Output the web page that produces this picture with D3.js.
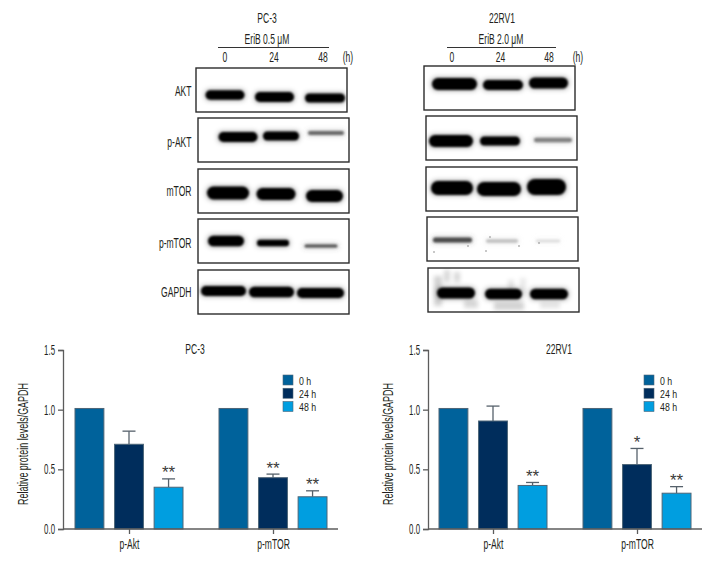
<!DOCTYPE html>
<html>
<head>
<meta charset="utf-8">
<script src="https://cdn.jsdelivr.net/npm/d3@7/dist/d3.min.js"></script>
<style>
html,body{margin:0;padding:0;background:#fff}
svg{display:block}
text{font-family:"Liberation Sans",sans-serif;fill:#231f20}
</style>
</head>
<body>
<div id="chart"></div>
<script>
// ---- bar chart data
const groups = ["p-Akt", "p-mTOR"];
const seriesNames = ["0 h", "24 h", "48 h"];
const yTicks = [0, 0.5, 1.0, 1.5];
const pc3Values = [1.01, 0.71, 0.35, 1.01, 0.43, 0.27];
const pc3ErrTop = [null, 0.82, 0.42, null, 0.46, 0.32];
const pc3Stars = ["", "", "**", "", "**", "**"];
const rvValues = [1.01, 0.905, 0.365, 1.01, 0.54, 0.30];
const rvErrTop = [null, 1.03, 0.39, null, 0.675, 0.355];
const rvStars = ["", "", "**", "", "*", "**"];

// ---- blot data: lane centre, row height, lane width, band thickness, darkness (panel units)
const blotRows = ["AKT", "p-AKT", "mTOR", "p-mTOR", "GAPDH"];
const laneLabels = ["0", "24", "48"];
const pc3Blots = [
  [[29,27,39,9.5,1],[78.5,29,39,10,1],[129,30,40,9,1]],
  [[40,19,39,10,1],[83,18,36,9,1],[128,15,36,4,.6]],
  [[30,24,42,13,1],[78,25,39,12,1],[126.5,27,37,12,1]],
  [[28,22,36,10.5,1],[75,24,32,6.5,1],[123,27,33,3.2,.7]],
  [[25.5,21,45,10,1],[73.5,22,45,10.5,1],[122.5,23,47,10,1]]
];
const rvBlots = [
  [[30.5,18,45,12,1],[79,19,40,10,1],[124.5,17,39,11,1]],
  [[25,25,44,12,1],[74,25,40,9,1],[127,24,38,4.5,.5]],
  [[26,21,42,14,1],[73,22,44,14,1],[120.5,20,39,16,1]],
  [[25.5,23,39,5,.72],[75,24,32,3.5,.25],[121,24,24,2.5,.14]],
  [[28,25,38,11,1],[75.5,26,37,10.5,1],[121,26,38,10.5,1]]
];
// background haze on the last 22RV1 panel: x, y, w, h, darkness
const rvHaze = [[6,8,8,30,.08],[16,2,6,12,.07],[26,4,6,10,.07],[36,32,14,8,.07],[66,34,30,8,.08],[80,12,6,14,.05],[92,10,6,16,.04],[112,34,20,6,.05]];
// dust specks on p-mTOR 22RV1: x, y
const rvSpecks = [[7,35],[41,29],[59,34],[92,29],[63,20],[112,26]];

// ---- layout
const W = 720, H = 564;
const svg = d3.select("#chart").append("svg").attr("width", W).attr("height", H);
const defs = svg.append("defs");
defs.append("filter").attr("id", "bandBlur").attr("x", "-20%").attr("y", "-80%").attr("width", "140%").attr("height", "260%")
  .append("feGaussianBlur").attr("stdDeviation", 1.3);
defs.append("filter").attr("id", "haloBlur").attr("x", "-30%").attr("y", "-150%").attr("width", "160%").attr("height", "400%")
  .append("feGaussianBlur").attr("stdDeviation", 2.4);
defs.append("filter").attr("id", "hazeBlur").attr("x", "-100%").attr("y", "-100%").attr("width", "300%").attr("height", "300%")
  .append("feGaussianBlur").attr("stdDeviation", 2);

function blotColumn(cfg, idx) {
  const g = svg.append("g");
  g.append("text").attr("x", cfg.titleX).attr("y", 23).attr("text-anchor", "middle").attr("font-size", 14).text(cfg.title);
  g.append("text").attr("x", cfg.treatX).attr("y", 44).attr("text-anchor", "middle").attr("font-size", 14).text(cfg.treatment);
  g.append("line").attr("x1", cfg.rule[0]).attr("x2", cfg.rule[1]).attr("y1", 47.5).attr("y2", 47.5).attr("stroke", "#333").attr("stroke-width", 1);
  const lane = d3.scalePoint().domain(laneLabels).range(cfg.lanes);
  laneLabels.forEach(l => g.append("text").attr("x", lane(l)).attr("y", 62).attr("text-anchor", "middle").attr("font-size", 14).text(l));
  g.append("text").attr("x", cfg.hX).attr("y", 62).attr("text-anchor", "middle").attr("font-size", 14).text("(h)");

  cfg.panels.forEach((p, i) => {
    const x = d3.scaleLinear().domain([0, 151]).range([p[0], p[0] + 151]);
    const y = d3.scaleLinear().domain([0, 44]).range([p[1], p[1] + 44]);
    const clipId = `clip-${idx}-${i}`;
    defs.append("clipPath").attr("id", clipId).append("rect")
      .attr("x", x(0)).attr("y", y(0)).attr("width", 151).attr("height", 44);
    g.append("rect").attr("x", x(0)).attr("y", y(0)).attr("width", 151).attr("height", 44).attr("fill", "#fff");
    const pg = g.append("g").attr("clip-path", `url(#${clipId})`);
    if (i === 4 && cfg.haze) {
      pg.selectAll("rect.h").data(cfg.haze).join("rect").attr("class", "h")
        .attr("x", d => x(d[0])).attr("y", d => y(d[1])).attr("width", d => d[2]).attr("height", d => d[3])
        .attr("fill", "#000").attr("fill-opacity", d => d[4] * 2.2).attr("filter", "url(#hazeBlur)");
    }
    const grey = d => { const c = 255 - 250 * d[4]; return d3.rgb(c, c, c); };
    pg.selectAll("rect.halo").data(cfg.blots[i]).join("rect").attr("class", "halo")
      .attr("x", d => x(d[0] - d[2] / 2 - 1)).attr("y", d => y(d[1] - d[3] / 2 - 1))
      .attr("width", d => d[2] + 2).attr("height", d => d[3] + 2)
      .attr("rx", d => d[3] / 2).attr("ry", d => d[3] / 2)
      .attr("fill", grey).attr("fill-opacity", .3).attr("filter", "url(#haloBlur)");
    pg.selectAll("rect.b").data(cfg.blots[i]).join("rect").attr("class", "b")
      .attr("x", d => x(d[0] - d[2] / 2)).attr("y", d => y(d[1] - d[3] / 2))
      .attr("width", d => d[2]).attr("height", d => d[3])
      .attr("rx", d => d[3] / 2).attr("ry", d => d[3] / 2)
      .attr("fill", grey)
      .attr("filter", "url(#bandBlur)");
    if (i === 3 && cfg.specks) {
      pg.selectAll("circle").data(cfg.specks).join("circle")
        .attr("cx", d => x(d[0])).attr("cy", d => y(d[1])).attr("r", .7).attr("fill", "#666");
    }
    g.append("rect").attr("x", x(0)).attr("y", y(0)).attr("width", 151).attr("height", 44)
      .attr("fill", "none").attr("stroke", "#2b2b2b").attr("stroke-width", 1.4);
    if (cfg.rowLabels) {
      g.append("text").attr("x", 191.5).attr("y", y(22) + 4 + cfg.rowLabels[i]).attr("text-anchor", "end").attr("font-size", 14).text(blotRows[i]);
    }
  });
}

blotColumn({
  title: "PC-3", titleX: 267, treatment: "EriB 0.5 μM", treatX: 267, rule: [218, 329],
  lanes: [225, 323], hX: 348, blots: pc3Blots,
  panels: [[196, 68], [198, 118], [198, 169], [198, 219], [198, 270]],
  rowLabels: [2, 3, 1, 3, 1]
}, 0);
blotColumn({
  title: "22RV1", titleX: 502, treatment: "EriB 2.0 μM", treatX: 501, rule: [447, 556],
  lanes: [452, 549], hX: 578, blots: rvBlots, haze: rvHaze, specks: rvSpecks,
  panels: [[424, 66], [426, 116], [426, 167], [427, 217], [428, 268]]
}, 1);

// ---- bar charts
const colors = d3.scaleOrdinal().domain(seriesNames).range(["#00629b", "#002d5c", "#009ee0"]);
const y = d3.scaleLinear().domain([0, 1.5]).range([529, 350]);

function barChart(cfg) {
  const g = svg.append("g");
  const x0 = d3.scalePoint().domain(groups).range(cfg.groupX);
  const x1 = d3.scaleBand().domain(seriesNames).range([-54, 54]).paddingInner(0.27);
  const rows = [];
  groups.forEach((gn, gi) => seriesNames.forEach((s, si) => {
    const k = gi * seriesNames.length + si;
    rows.push({ group: gn, series: s, v: cfg.values[k], top: cfg.err[k], star: cfg.stars[k] });
  }));
  const bx = d => x0(d.group) + x1(d.series);

  const withErr = rows.filter(d => d.top !== null);
  g.selectAll("line.err").data(withErr).join("line").attr("class", "err")
    .attr("x1", d => bx(d) + x1.bandwidth() / 2).attr("x2", d => bx(d) + x1.bandwidth() / 2)
    .attr("y1", d => y(d.v)).attr("y2", d => y(d.top))
    .attr("stroke", "#56616b").attr("stroke-width", 1.3);
  g.selectAll("line.cap").data(withErr).join("line").attr("class", "cap")
    .attr("x1", d => bx(d) + x1.bandwidth() / 2 - 6.5).attr("x2", d => bx(d) + x1.bandwidth() / 2 + 6.5)
    .attr("y1", d => y(d.top)).attr("y2", d => y(d.top))
    .attr("stroke", "#56616b").attr("stroke-width", 1.3);

  g.selectAll("rect.bar").data(rows).join("rect").attr("class", "bar")
    .attr("x", bx).attr("y", d => y(d.v)).attr("width", x1.bandwidth()).attr("height", d => y(0) - y(d.v))
    .attr("fill", d => colors(d.series)).attr("stroke", "#4d6577").attr("stroke-width", 1);

  g.selectAll("text.star").data(rows.filter(d => d.star)).join("text").attr("class", "star")
    .attr("x", d => bx(d) + x1.bandwidth() / 2).attr("y", d => y(d.top) - 0.5)
    .attr("text-anchor", "middle").attr("font-size", 17).style("fill", "#3a3a3a").text(d => d.star);

  const yAxis = g.append("g").attr("class", "yaxis").attr("transform", `translate(${cfg.axisX},0)`)
    .call(d3.axisLeft(y).tickValues(yTicks).tickFormat(d3.format(".1f")).tickSize(5).tickPadding(3));
  const xAxis = g.append("g").attr("transform", "translate(0,529)")
    .call(d3.axisBottom(x0).tickSize(5).tickPadding(5));
  xAxis.select(".domain").attr("d", `M${cfg.axisX},0H${cfg.axisEnd}`);
  [yAxis, xAxis].forEach(a => {
    a.selectAll(".domain").attr("stroke", "#5c5c5c").attr("stroke-width", 1.3);
    a.selectAll(".tick line").attr("stroke", "#5c5c5c").attr("stroke-width", 1.3);
    a.selectAll("text").attr("font-size", 14).attr("font-family", null).style("fill", "#231f20");
  });

  g.append("text").attr("x", cfg.titleX).attr("y", 354).attr("text-anchor", "middle").attr("font-size", 14).text(cfg.title);
  g.append("text").attr("class", "ylabel").attr("transform", `translate(${cfg.labelX},${444}) rotate(-90)`)
    .attr("text-anchor", "middle").attr("font-size", 14).text("Relative protein levels/GAPDH");

  const lg = g.append("g").attr("class", "legend");
  seriesNames.forEach((s) => {
    const ly = d3.scalePoint().domain(seriesNames).range([380, 406.5])(s);
    lg.append("rect").attr("x", cfg.legendX).attr("y", ly - 5).attr("width", 10).attr("height", 10)
      .attr("fill", colors(s)).attr("stroke", "#4d6577").attr("stroke-width", .6);
    lg.append("text").attr("x", cfg.legendX + 16).attr("y", ly + 4.5).attr("font-size", 11.4).text(s);
  });
}

barChart({
  title: "PC-3", titleX: 195, groupX: [129, 273], axisX: 63, axisEnd: 338, labelX: 28, legendX: 283,
  values: pc3Values, err: pc3ErrTop, stars: pc3Stars
});
barChart({
  title: "22RV1", titleX: 559, groupX: [493, 637], axisX: 428, axisEnd: 702, labelX: 393, legendX: 644,
  values: rvValues, err: rvErrTop, stars: rvStars
});

// condense all labels to match the narrow typeface of the reference
svg.selectAll("text").each(function () {
  const t = d3.select(this);
  if (t.classed("star")) return;
  let f = 0.61;
  if (this.closest(".yaxis")) f = 0.56;
  else if (t.classed("ylabel")) f = 0.64;
  else if (this.closest(".legend")) f = 0.77;
  t.attr("textLength", this.getComputedTextLength() * f).attr("lengthAdjust", "spacingAndGlyphs");
});
</script>
</body>
</html>
